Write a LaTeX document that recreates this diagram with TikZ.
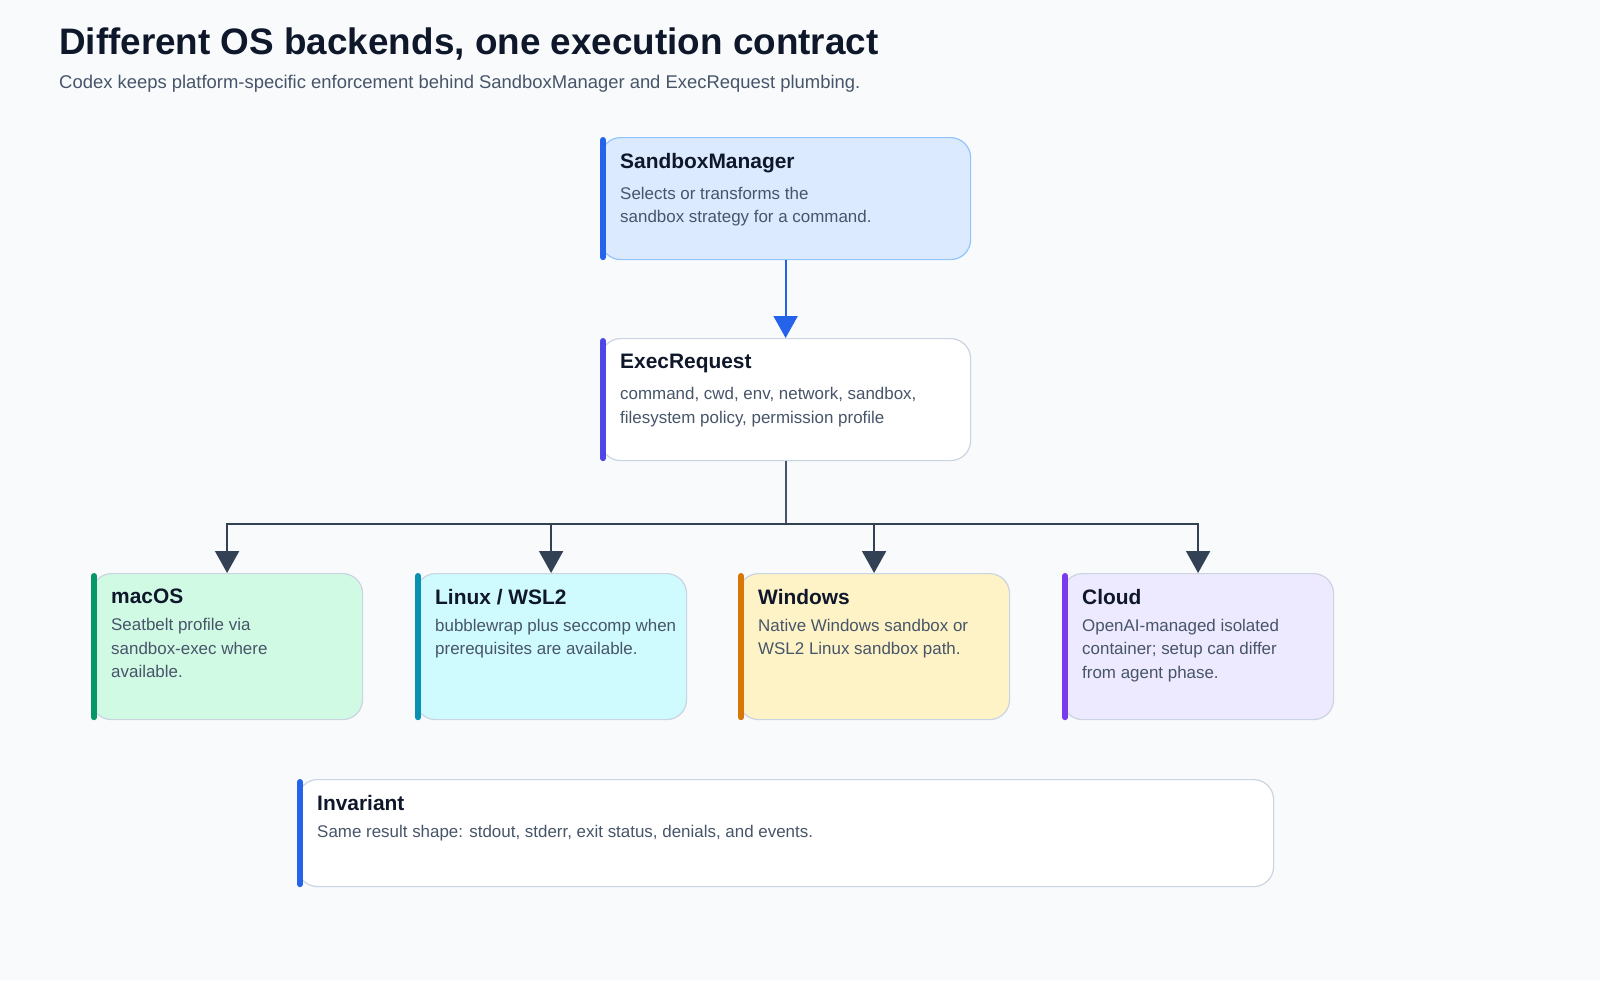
\documentclass[tikz,border=0pt]{standalone}
\usepackage{fontspec}
\setmainfont{Liberation Sans}
\usetikzlibrary{arrows.meta,calc,positioning}

\definecolor{bgc}{HTML}{F8FAFC}
\definecolor{ink}{HTML}{0F172A}
\definecolor{muted}{HTML}{475569}
\definecolor{edge}{HTML}{CBD5E1}
\definecolor{wire}{HTML}{334155}
\definecolor{bluebar}{HTML}{2563EB}
\definecolor{bluefill}{HTML}{DBEAFE}
\definecolor{blueedge}{HTML}{93C5FD}
\definecolor{indigobar}{HTML}{4F46E5}
\definecolor{greenbar}{HTML}{059669}
\definecolor{greenfill}{HTML}{D1FAE5}
\definecolor{cyanbar}{HTML}{0891B2}
\definecolor{cyanfill}{HTML}{CFFAFE}
\definecolor{amberbar}{HTML}{D97706}
\definecolor{amberfill}{HTML}{FEF3C7}
\definecolor{violetbar}{HTML}{7C3AED}
\definecolor{violetfill}{HTML}{EDE9FE}

\tikzset{
  card/.style={draw=#1, line width=1.2pt, rounded corners=20bp, anchor=north west, inner sep=0pt},
  cardtitle/.style={anchor=north west, inner sep=0pt, font=\fontsize{21}{24}\selectfont\bfseries, text=ink},
  cardtext/.style={anchor=north west, inner sep=0pt, align=left, font=\fontsize{17}{23.5}\selectfont, text=muted},
  accent/.style={line width=6bp, line cap=round, draw=#1},
  link/.style={line width=2bp, draw=#1, -{Triangle[length=22bp,width=24bp,fill=#1]}}
}

% box: name, x y, w, h, fill, border, accent, title, text
\newcommand{\cardbox}[9]{%
  \node [card=#6, fill=#5, minimum width=#3 bp, minimum height=#4 bp] (#1) at (#2) {};
  \draw [accent=#7] ($(#1.north west)+(3bp,-3bp)$) -- ($(#1.south west)+(3bp,3bp)$);
  \node [cardtitle] (#1-t) at ($(#1.north west)+(20bp,-16bp)$) {#8};
  \node [cardtext, below=14bp of #1-t.south west, anchor=north west] (#1-d) {#9};
}

\begin{document}
\begin{tikzpicture}[x=1bp, y=-1bp]
    \fill [bgc] (0,0) rectangle (1600,980);
    \useasboundingbox (0,0) rectangle (1600,980);

    % header
    \node [anchor=west, inner sep=0pt, font=\fontsize{37}{40}\selectfont\bfseries, text=ink] (title) at (59,44) {Different OS backends, one execution contract};
    \node [anchor=west, inner sep=0pt, font=\fontsize{18.5}{22}\selectfont, text=muted] (subtitle) at (59,84) {Codex keeps platform-specific enforcement behind SandboxManager and ExecRequest plumbing.};

    % upper cards
    \cardbox{mgr}{600,137}{370}{122}{bluefill}{blueedge}{bluebar}{SandboxManager}{Selects or transforms the\\sandbox strategy for a command.}
    \cardbox{req}{600,338}{370}{122}{white}{edge}{indigobar}{ExecRequest}{command, cwd, env, network, sandbox,\\filesystem policy, permission profile}

    % backends
    \cardbox{mac}{91,573}{271}{146}{greenfill}{edge}{greenbar}{macOS}{Seatbelt profile via\\sandbox-exec where\\available.}
    \cardbox{lnx}{415,573}{271}{146}{cyanfill}{edge}{cyanbar}{Linux / WSL2}{bubblewrap plus seccomp when\\prerequisites are available.}
    \cardbox{win}{738,573}{271}{146}{amberfill}{edge}{amberbar}{Windows}{Native Windows sandbox or\\WSL2 Linux sandbox path.}
    \cardbox{cld}{1062,573}{271}{146}{violetfill}{edge}{violetbar}{Cloud}{OpenAI-managed isolated\\container; setup can differ\\from agent phase.}

    % invariant
    \cardbox{inv}{297,779}{976}{107}{white}{edge}{bluebar}{Invariant}{Same result shape: stdout, stderr, exit status, denials, and events.}

    % connectors
    \draw [link=bluebar] (mgr.south) -- (req.north);
    \coordinate (bus) at ($(req.south)+(0,63)$);
    \draw [line width=2bp, draw=muted] (req.south) -- (bus);
    \foreach \b in {mac, lnx, win, cld} {
      \draw [link=wire] (bus) -| (\b.north);
    }
\end{tikzpicture}
\end{document}
